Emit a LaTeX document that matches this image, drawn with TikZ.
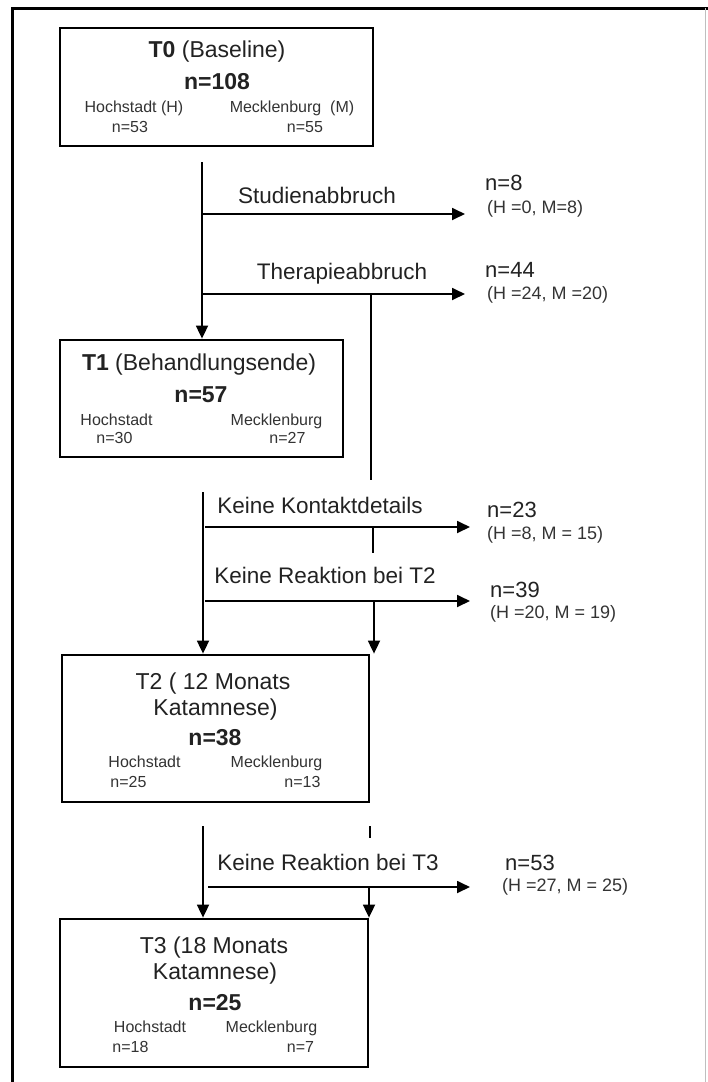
\documentclass[tikz,border=0pt]{standalone}
\usepackage{fontspec}
\setmainfont{Liberation Sans}
\usetikzlibrary{arrows.meta}
\definecolor{txt}{HTML}{222222}
\definecolor{stxt}{HTML}{333333}
\begin{document}
\begin{tikzpicture}[x=1pt,y=-1pt,
  box/.style={draw,line width=2.8pt,inner sep=0pt},
  ttl/.style={font=\fontsize{23}{27}\selectfont,text=txt,anchor=base,inner sep=0pt},
  sml/.style={font=\fontsize{16}{19}\selectfont,text=stxt,anchor=base,inner sep=0pt},
  lbl/.style={font=\fontsize{22.5}{26}\selectfont,text=txt,anchor=base,inner sep=0pt},
  cnt/.style={font=\fontsize{22}{26}\selectfont,text=txt,anchor=base west,inner sep=0pt},
  sub/.style={font=\fontsize{18}{21}\selectfont,text=stxt,anchor=base west,inner sep=0pt},
  ln/.style={line width=1.8pt},
  flow/.style={line width=1.8pt,-{Triangle[length=13pt,width=12pt]}}]
\useasboundingbox (0,0) rectangle (708,1082);
% outer frame
\draw[line width=3pt] (12,1082) -- (12,8) -- (708,8);
\draw[line width=0.8pt,black!25] (705,8) -- (705,1082);

% boxes
\node[box,minimum width=313pt,minimum height=118pt] (t0) at (216.5,87) {};
\node[box,minimum width=283pt,minimum height=117pt] (t1) at (201.5,398.5) {};
\node[box,minimum width=307pt,minimum height=147pt] (t2) at (215.5,728.5) {};
\node[box,minimum width=308pt,minimum height=148pt] (t3) at (214,993) {};

% T0 texts
\node[ttl] (t0a) at (217,57) {\textbf{T0} (Baseline)};
\node[ttl] (t0n) at (217,89) {\textbf{n=108}};
\node[sml] (t0h) at (134,112) {Hochstadt (H)};
\node[sml] (t0hn) at (130,132) {n=53};
\node[sml] (t0m) at (292,112) {Mecklenburg\ \ (M)};
\node[sml] (t0mn) at (305,132) {n=55};

% T1 texts
\node[ttl] (t1a) at (199,370) {\textbf{T1} (Behandlungsende)};
\node[ttl] (t1n) at (201,402) {\textbf{n=57}};
\node[sml] (t1h) at (116.5,425) {Hochstadt};
\node[sml] (t1hn) at (114.5,443) {n=30};
\node[sml] (t1m) at (276.5,425) {Mecklenburg};
\node[sml] (t1mn) at (287.5,443) {n=27};

% T2 texts
\node[ttl] (t2a) at (213,689) {T2 ( 12 Monats};
\node[ttl] (t2b) at (215.5,715) {Katamnese)};
\node[ttl] (t2n) at (215,745) {\textbf{n=38}};
\node[sml] (t2h) at (144.5,767) {Hochstadt};
\node[sml] (t2hn) at (128.5,787) {n=25};
\node[sml] (t2m) at (276.5,767) {Mecklenburg};
\node[sml] (t2mn) at (302.5,787) {n=13};

% T3 texts
\node[ttl] (t3a) at (214,953) {T3 (18 Monats};
\node[ttl] (t3b) at (215,979) {Katamnese)};
\node[ttl] (t3n) at (215,1010) {\textbf{n=25}};
\node[sml] (t3h) at (150,1032) {Hochstadt};
\node[sml] (t3hn) at (130.5,1052) {n=18};
\node[sml] (t3m) at (271.5,1032) {Mecklenburg};
\node[sml] (t3mn) at (300.5,1052) {n=7};

% branch labels
\node[lbl] (l1) at (317,203) {Studienabbruch};
\node[lbl] (l2) at (342,279) {Therapieabbruch};
\node[lbl] (l3) at (320,513) {Keine Kontaktdetails};
\node[lbl] (l4) at (325,583) {Keine Reaktion bei T2};
\node[lbl] (l5) at (328,870) {Keine Reaktion bei T3};

% right counts
\node[cnt] (c1) at (485,190) {n=8};
\node[sub] (c1s) at (487,213) {(H =0, M=8)};
\node[cnt] (c2) at (485,277) {n=44};
\node[sub] (c2s) at (487,299) {(H =24, M =20)};
\node[cnt] (c3) at (487,517) {n=23};
\node[sub] (c3s) at (487,539) {(H =8, M = 15)};
\node[cnt] (c4) at (490,597) {n=39};
\node[sub] (c4s) at (490,618) {(H =20, M = 19)};
\node[cnt] (c5) at (505,870) {n=53};
\node[sub] (c5s) at (502,891) {(H =27, M = 25)};

% coordinates
\coordinate (m0) at (202,162);
\coordinate (b1) at (202,214);
\coordinate (e1) at (465,214);
\coordinate (b2) at (202,294);
\coordinate (e2) at (465,294);
\coordinate (r1) at (371,294);
\coordinate (r1e) at (371,480);
\coordinate (m1) at (203,492);
\coordinate (b3) at (205,527);
\coordinate (e3) at (470,527);
\coordinate (r2) at (373,527);
\coordinate (r2e) at (373,553);
\coordinate (b4) at (205,601);
\coordinate (e4) at (470,601);
\coordinate (r3) at (374,601);
\coordinate (m2) at (203,826);
\coordinate (k1) at (370,826);
\coordinate (k1e) at (370,838);
\coordinate (b5) at (208,887);
\coordinate (e5) at (470,887);
\coordinate (r4) at (369,887);

% connectors
\draw[flow] (m0) -- (m0 |- t1.north);
\draw[flow] (b1) -- (e1);
\draw[flow] (b2) -- (e2);
\draw[ln,line width=1.4pt] (r1) -- (r1e);
\draw[flow] (m1) -- (m1 |- t2.north);
\draw[flow] (b3) -- (e3);
\draw[ln,line width=1.4pt] (r2) -- (r2e);
\draw[flow] (b4) -- (e4);
\draw[flow] (r3) -- (r3 |- t2.north);
\draw[flow] (m2) -- (m2 |- t3.north);
\draw[ln,line width=1.4pt] (k1) -- (k1e);
\draw[flow] (b5) -- (e5);
\draw[flow] (r4) -- (r4 |- t3.north);
\end{tikzpicture}
\end{document}
